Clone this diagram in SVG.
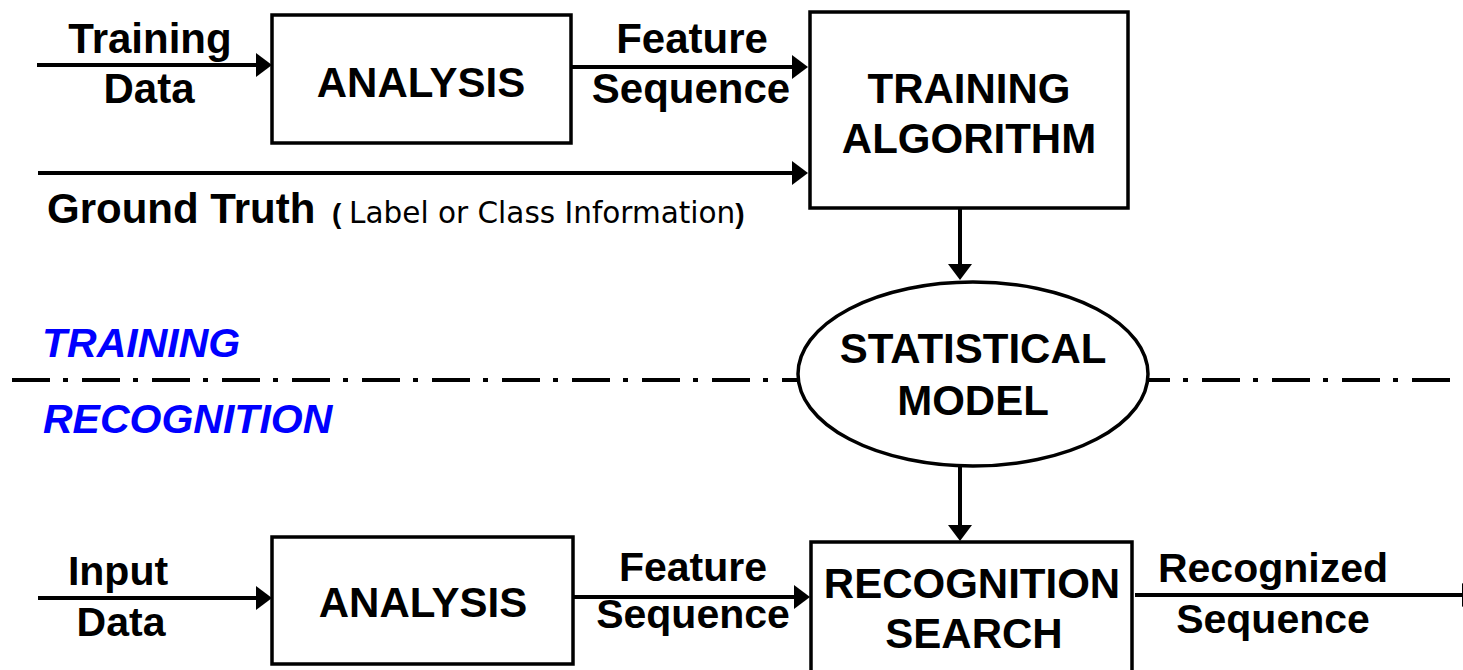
<svg xmlns="http://www.w3.org/2000/svg" width="1463" height="670" viewBox="0 0 1463 670">
<style>
.box{fill:#fff;stroke:#000;stroke-width:3.5}
.lbl{font-family:"Liberation Sans",Arial,sans-serif;font-weight:bold;font-size:42px;fill:#000;text-anchor:middle}
.sm{font-size:41px}
.phase{font-family:"Liberation Sans",Arial,sans-serif;font-weight:bold;font-style:italic;font-size:41px;fill:#0000ff}
.conn{stroke:#000;stroke-width:4;fill:none}
.paren{font-family:"Liberation Sans",Arial,sans-serif;font-weight:bold;font-size:28px}
</style>
<defs>
<marker id="ah" viewBox="0 0 16 24" markerWidth="16" markerHeight="24" refX="8" refY="12" orient="auto" markerUnits="userSpaceOnUse">
<path d="M0,0 L16,12 L0,24 Z" fill="#000"/>
</marker>
</defs>
<rect width="1463" height="670" fill="#fff"/>

<g id="divider">
<line x1="12" y1="380" x2="1452" y2="380" stroke="#000" stroke-width="4" stroke-dasharray="38 13 5 14"/>
<text class="phase" x="42" y="357">TRAINING</text>
<text class="phase" x="43" y="433" font-size="42">RECOGNITION</text>
</g>

<g id="connectors">
<line class="conn" x1="37" y1="65" x2="264" y2="65" marker-end="url(#ah)"/>
<line class="conn" x1="571" y1="67" x2="800" y2="67" marker-end="url(#ah)"/>
<line class="conn" x1="38" y1="173" x2="800" y2="173" marker-end="url(#ah)"/>
<line class="conn" x1="960" y1="208" x2="960" y2="272" marker-end="url(#ah)"/>
<line class="conn" x1="960" y1="467" x2="960" y2="533" marker-end="url(#ah)"/>
<line class="conn" x1="38" y1="598" x2="264" y2="598" marker-end="url(#ah)"/>
<line class="conn" x1="573" y1="597" x2="802" y2="597" marker-end="url(#ah)"/>
<line class="conn" x1="1135" y1="595" x2="1470" y2="595" marker-end="url(#ah)"/>
</g>

<g id="labels">
<text class="lbl" x="150" y="53">Training</text>
<text class="lbl" x="149" y="103">Data</text>
<text class="lbl" x="692" y="53">Feature</text>
<text class="lbl" x="691" y="103">Sequence</text>
<text x="47" y="223" font-family="Liberation Sans, Arial, sans-serif" font-weight="bold" font-size="42">Ground Truth</text>
<text x="332" y="223"><tspan class="paren">(</tspan><tspan x="349" font-family="DejaVu Sans, sans-serif" font-size="29.5">Label or Class Information</tspan><tspan class="paren">)</tspan></text>
<text class="lbl sm" x="118" y="585">Input</text>
<text class="lbl sm" x="121" y="636">Data</text>
<text class="lbl sm" x="693" y="581">Feature</text>
<text class="lbl sm" x="693" y="628">Sequence</text>
<text class="lbl sm" x="1273" y="582">Recognized</text>
<text class="lbl sm" x="1273" y="633">Sequence</text>
</g>

<g id="analysis-train">
<rect class="box" x="272" y="15" width="299" height="128"/>
<text class="lbl" x="421" y="97">ANALYSIS</text>
</g>

<g id="training-algorithm">
<rect class="box" x="810" y="12" width="318" height="196"/>
<text class="lbl" x="969" y="103">TRAINING</text>
<text class="lbl" x="969" y="153">ALGORITHM</text>
</g>

<g id="statistical-model">
<ellipse class="box" cx="973" cy="374" rx="175" ry="92"/>
<text class="lbl" x="973" y="363">STATISTICAL</text>
<text class="lbl" x="973" y="415">MODEL</text>
</g>

<g id="analysis-recog">
<rect class="box" x="272" y="537" width="301" height="127"/>
<text class="lbl" x="423" y="617">ANALYSIS</text>
</g>

<g id="recognition-search">
<rect class="box" x="811" y="542" width="321" height="140"/>
<text class="lbl" x="972" y="598">RECOGNITION</text>
<text class="lbl" x="974" y="648">SEARCH</text>
</g>
</svg>
